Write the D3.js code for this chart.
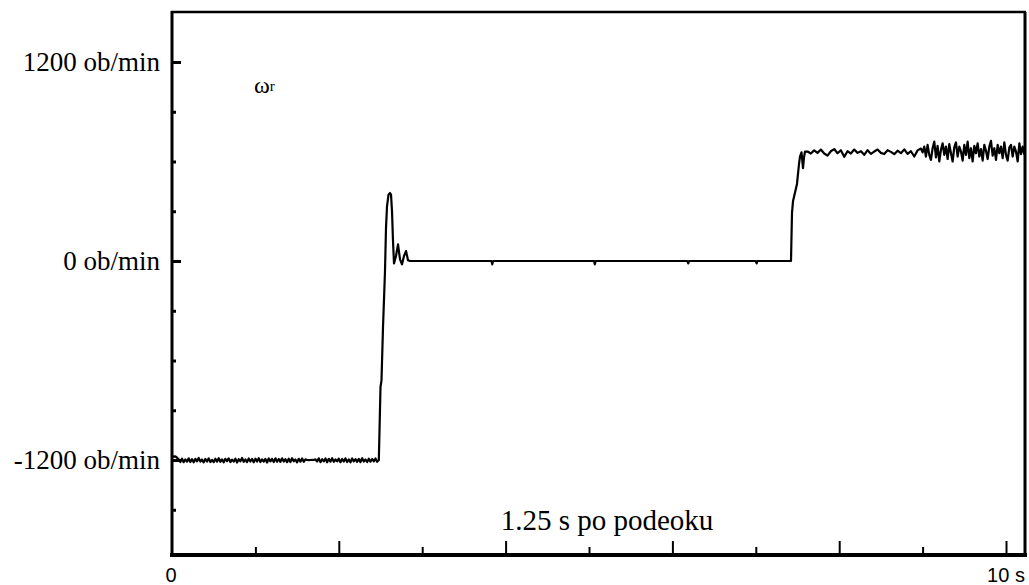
<!DOCTYPE html>
<html><head><meta charset="utf-8">
<script src="https://cdn.jsdelivr.net/npm/d3@7"></script>
<style>body{margin:0;background:#fff}svg{display:block}</style>
</head><body>
<svg id="c" width="1029" height="585"></svg>
<script>
// ---- data (time in s, speed in ob/min) ----
const timeLeft = [0,0.02,0.04,0.06,0.08,0.1,0.12,0.14,0.16,0.18,0.2,0.22,0.24,0.26,0.28,0.3,0.32,0.34,0.36,0.38,0.4,0.42,0.44,0.46,0.48,0.5,0.52,0.54,0.56,0.58,0.6,0.62,0.64,0.66,0.68,0.7,0.72,0.74,0.76,0.78,0.8,0.82,0.84,0.86,0.88,0.9,0.92,0.94,0.96,0.98,1,1.02,1.04,1.06,1.08,1.1,1.12,1.14,1.16,1.18,1.2,1.22,1.24,1.26,1.28,1.3,1.32,1.34,1.36,1.38,1.4,1.42,1.44,1.46,1.48,1.5,1.52,1.54,1.56,1.58,1.6,1.62,1.64,1.66,1.68,1.7,1.72,1.74,1.76,1.78,1.8,1.82,1.84,1.86,1.88,1.9,1.92,1.94,1.96,1.98,2,2.02,2.04,2.06,2.08,2.1,2.12,2.14,2.16,2.18,2.2,2.22,2.24,2.26,2.28,2.3,2.32,2.34,2.36,2.38,2.4,2.42,2.44,2.46,2.48];
const speedLeft = [-1175,-1180,-1178,-1186,-1196,-1212,-1192,-1213,-1196,-1210,
  -1190,-1212,-1195,-1214,-1193,-1208,-1188,-1210,-1197,-1214,
  -1194,-1209,-1190,-1212,-1199,-1213,-1192,-1210,-1189,-1211,
  -1196,-1214,-1193,-1207,-1190,-1212,-1198,-1210,-1192,-1215,
  -1195,-1208,-1188,-1211,-1197,-1213,-1191,-1209,-1194,-1214,
  -1192,-1209,-1189,-1212,-1196,-1210,-1193,-1215,-1191,-1208,
  -1194,-1212,-1190,-1210,-1194,-1211,-1190,-1209,-1195,-1213,
  -1192,-1212,-1189,-1208,-1197,-1214,-1193,-1210,-1191,-1211,
  -1196,-1200,-1201,-1200,-1199,-1200,-1196,-1209,-1190,-1213,
  -1195,-1208,-1191,-1214,-1193,-1210,-1189,-1211,-1197,-1208,
  -1192,-1213,-1194,-1209,-1190,-1212,-1196,-1214,-1191,-1208,
  -1195,-1211,-1193,-1213,-1189,-1209,-1197,-1212,-1192,-1210,
  -1194,-1208,-1191,-1211,-1200];
const timeStep1 = [2.5,2.512,2.53,2.554,2.566,2.578,2.596,2.614,2.626,2.638,2.65,2.662,2.686,2.71,2.734,2.758,2.782,2.806,2.83,2.854];
const speedStep1 = [-760,-720,-400,-60,200,330,400,410,400,300,120,-15,30,100,10,-20,30,60,5,0];
const timeMid = [2.9,3.83,3.84,3.85,5.06,5.07,5.08,6.18,6.19,6.2,7.0,7.01,7.02,7.422];
const speedMid = [0,0,-20,0,0,-20,0,0,-15,0,0,-15,0,0];
const timeStep2 = [7.434,7.446,7.494,7.518,7.53,7.548,7.566,7.578,7.59];
const speedStep2 = [290,360,465,585,630,655,560,625,660];
const timeRight1 = [7.62,7.66,7.7,7.74,7.78,7.82,7.86,7.9,7.94,7.98,8.02,8.06,8.1,8.14,8.18,8.22,8.26,8.3,8.34,8.38,8.42,8.46,8.5,8.54,8.58,8.62,8.66,8.7,8.74,8.78,8.82,8.86,8.9,8.94,8.98];
const speedRight1 = [660,648,667,652,672,648,635,662,675,650,668,628,662,648,672,652,662,640,668,646,660,672,652,645,668,658,644,665,650,673,646,662,630,667,678];
const timeRight2 = [9,9.02,9.04,9.06,9.08,9.1,9.12,9.14,9.16,9.18,9.2,9.22,9.24,9.26,9.28,9.3,9.32,9.34,9.36,9.38,9.4,9.42,9.44,9.46,9.48,9.5,9.52,9.54,9.56,9.58,9.6,9.62,9.64,9.66,9.68,9.7,9.72,9.74,9.76,9.78,9.8,9.82,9.84,9.86,9.88,9.9,9.92,9.94,9.96,9.98,10,10.02,10.04,10.06,10.08,10.1,10.12,10.14,10.16,10.18,10.2,10.22];
const speedRight2 = [655,690,630,700,640,610,680,720,625,695,
  600,670,710,640,690,615,705,650,600,685,
  715,630,690,660,605,700,640,720,620,680,
  600,695,650,710,630,675,605,700,665,615,
  690,725,635,680,610,700,650,690,620,715,
  640,605,685,700,630,690,660,600,710,645,
  690,640];

const yTicksMajor = [-1200, 0, 1200];
const yTicksMinor = [-1500, -900, -600, -300, 300, 600, 900];
const yTickLabels = ["-1200 ob/min", "0 ob/min", "1200 ob/min"];
const xTicksMajor = [2, 4, 6, 8, 10];
const xTicksMinor = [1, 3, 5, 7, 9];
const xTickLabels = [[0, "0"], [10, "10 s"]];
const noteText = "1.25 s po podeoku";

// ---- chart ----
const svg = d3.select("#c");
const pLeft = 172, pRight = 1025, pTop = 12, pBottom = 555;
const x = d3.scaleLinear().domain([0, 10]).range([172, 1006]);
const y = d3.scaleLinear().domain([-1200, 1200]).range([460, 62]);

const pts = [];
[[timeLeft, speedLeft], [timeStep1, speedStep1], [timeMid, speedMid], [timeStep2, speedStep2],
 [timeRight1, speedRight1], [timeRight2, speedRight2]]
  .forEach(([t, v]) => t.forEach((d, i) => pts.push([d, v[i]])));

svg.append("path")
  .datum(pts)
  .attr("fill", "none")
  .attr("stroke", "#000")
  .attr("stroke-width", 2.2)
  .attr("stroke-linejoin", "round")
  .attr("d", d3.line().x(d => x(d[0])).y(d => y(d[1])));

// Frame
svg.append("line").attr("x1", pLeft - 1).attr("x2", pRight + 1).attr("y1", pTop).attr("y2", pTop).attr("stroke", "#000").attr("stroke-width", 2.5);
svg.append("line").attr("x1", pRight).attr("x2", pRight).attr("y1", pTop).attr("y2", pBottom + 2).attr("stroke", "#000").attr("stroke-width", 3);
svg.append("line").attr("x1", pLeft).attr("x2", pLeft).attr("y1", pTop - 1).attr("y2", pBottom + 2).attr("stroke", "#000").attr("stroke-width", 3);
svg.append("line").attr("x1", pLeft - 2).attr("x2", pRight + 2).attr("y1", pBottom).attr("y2", pBottom).attr("stroke", "#000").attr("stroke-width", 4);

// Y ticks via axes (inward)
function styleAxis(g) {
  g.select(".domain").remove();
  g.selectAll(".tick line").attr("stroke", "#000").attr("stroke-width", 3);
  g.selectAll(".tick text").remove();
}
svg.append("g").attr("transform", `translate(${pLeft},0)`)
  .call(d3.axisRight(y).tickValues(yTicksMajor).tickSize(9)).call(styleAxis);
svg.append("g").attr("transform", `translate(${pLeft},0)`)
  .call(d3.axisRight(y).tickValues(yTicksMinor).tickSize(4)).call(styleAxis);
svg.selectAll(".ylab").data(yTicksMajor).enter().append("text")
  .attr("x", 160).attr("y", d => y(d) + 8.5)
  .attr("text-anchor", "end")
  .attr("font-family", "Liberation Serif, Times New Roman, serif")
  .attr("font-size", 27)
  .text((d, i) => yTickLabels[i]);

// X ticks (upward)
function styleX(g) {
  g.select(".domain").remove();
  g.selectAll(".tick line").attr("stroke", "#000").attr("stroke-width", 2);
  g.selectAll(".tick text").remove();
}
svg.append("g").attr("transform", `translate(0,${pBottom})`)
  .call(d3.axisTop(x).tickValues(xTicksMajor).tickSize(14)).call(styleX);
svg.append("g").attr("transform", `translate(0,${pBottom})`)
  .call(d3.axisTop(x).tickValues(xTicksMinor).tickSize(8)).call(styleX);
svg.selectAll(".xlab").data(xTickLabels).enter().append("text")
  .attr("x", d => x(d[0]) - (d[0] === 0 ? 1 : 0))
  .attr("y", 582)
  .attr("text-anchor", "middle")
  .attr("font-family", "Liberation Sans, Arial, sans-serif")
  .attr("font-size", 20)
  .text(d => d[1]);

// annotations
svg.append("text").attr("x", 607).attr("y", 530).attr("text-anchor", "middle")
  .attr("font-family", "Liberation Serif, Times New Roman, serif").attr("font-size", 29)
  .text(noteText);
const w = svg.append("text").attr("x", 254).attr("y", 93)
  .attr("font-family", "Liberation Serif, Times New Roman, serif").attr("font-size", 24);
w.append("tspan").text("ω");
w.append("tspan").attr("font-size", 15).attr("dy", -2).text("r");
</script>
</body></html>
